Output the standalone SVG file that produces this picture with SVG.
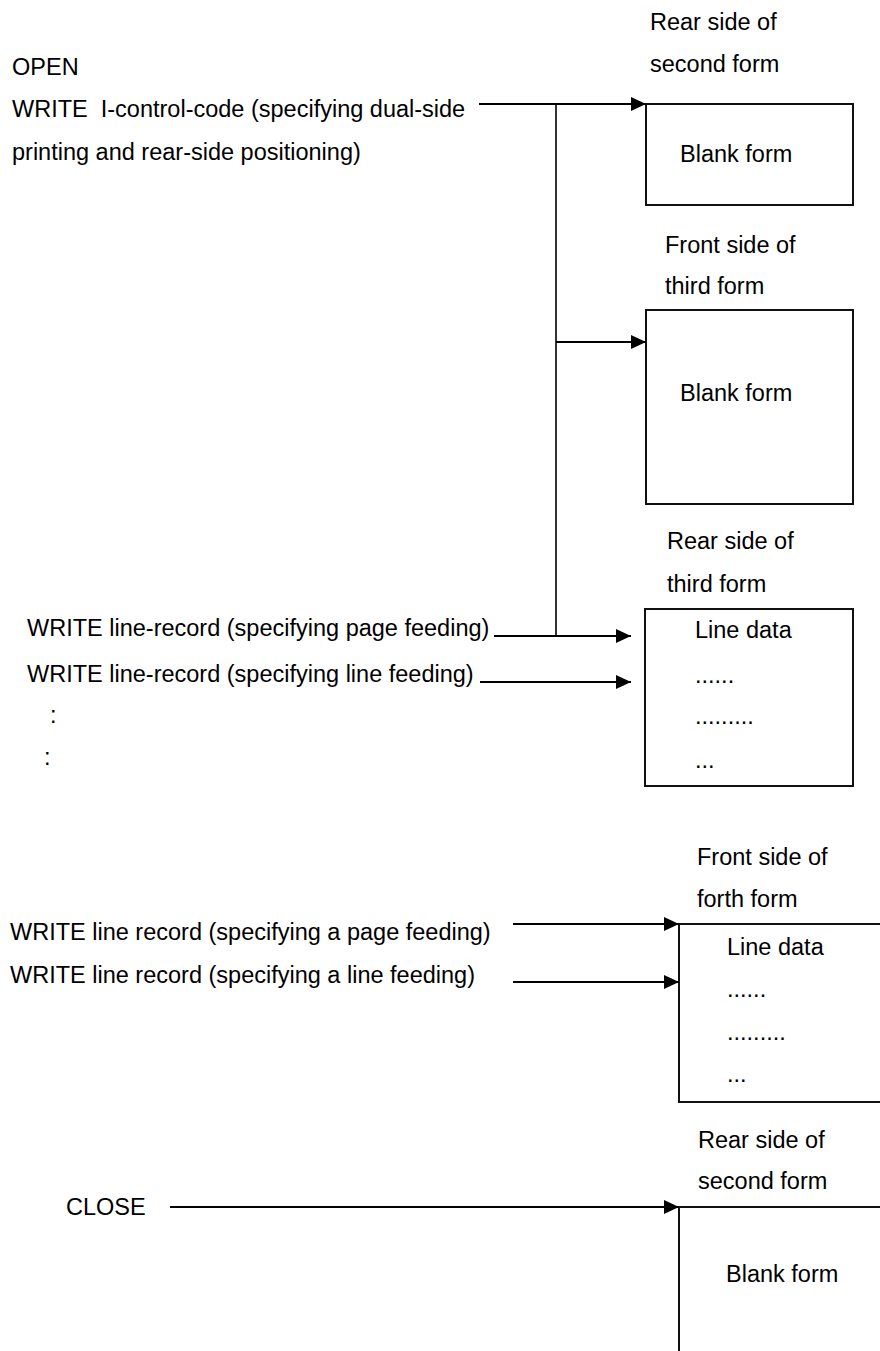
<svg xmlns="http://www.w3.org/2000/svg" width="880" height="1351" viewBox="0 0 880 1351">
<defs>
<style>
text{font-family:"Liberation Sans",Arial,sans-serif;font-size:23.5px;fill:#000}
.box{fill:#fff;stroke:#111;stroke-width:2}
.ln{fill:none;stroke:#000;stroke-width:1.6}
.arr{fill:none;stroke:#000;stroke-width:2;marker-end:url(#ah)}
</style>
<marker id="ah" markerWidth="15" markerHeight="14" refX="15" refY="7" orient="auto" markerUnits="userSpaceOnUse" viewBox="0 0 15 14">
<path d="M0,0 L15,7 L0,14 Z" fill="#000"/>
</marker>
</defs>
<rect width="880" height="1351" fill="#fff"/>

<g id="labels-left">
<text x="12" y="75">OPEN</text>
<text x="12" y="117" xml:space="preserve">WRITE  I-control-code (specifying dual-side</text>
<text x="12" y="160">printing and rear-side positioning)</text>
<text x="27" y="636">WRITE line-record (specifying page feeding)</text>
<text x="27" y="682">WRITE line-record (specifying line feeding)</text>
<text x="50" y="723">:</text>
<text x="44" y="765">:</text>
<text x="10" y="940">WRITE line record (specifying a page feeding)</text>
<text x="10" y="983">WRITE line record (specifying a line feeding)</text>
<text x="66" y="1215">CLOSE</text>
</g>

<g id="form1">
<text x="650" y="30">Rear side of</text>
<text x="650" y="72">second form</text>
<rect class="box" x="646" y="104" width="207" height="101"/>
<text x="680" y="162">Blank form</text>
</g>

<g id="form2">
<text x="665" y="253">Front side of</text>
<text x="665" y="294">third form</text>
<rect class="box" x="646" y="310" width="207" height="194"/>
<text x="680" y="401">Blank form</text>
</g>

<g id="form3">
<text x="667" y="549">Rear side of</text>
<text x="667" y="592">third form</text>
<rect class="box" x="645" y="609" width="208" height="177"/>
<text x="695" y="638">Line data</text>
<text x="695" y="683">......</text>
<text x="695" y="724">.........</text>
<text x="695" y="768">...</text>
</g>

<g id="form4">
<text x="697" y="865">Front side of</text>
<text x="697" y="907">forth form</text>
<rect class="box" x="679" y="924" width="230" height="178"/>
<text x="727" y="955">Line data</text>
<text x="727" y="997">......</text>
<text x="727" y="1040">.........</text>
<text x="727" y="1082">...</text>
</g>

<g id="form5">
<text x="698" y="1148">Rear side of</text>
<text x="698" y="1189">second form</text>
<rect class="box" x="679" y="1207" width="230" height="170"/>
<text x="726" y="1282">Blank form</text>
</g>

<g id="connectors">
<line class="arr" x1="479" y1="104" x2="646" y2="104"/>
<line class="ln" x1="556" y1="104" x2="556" y2="636"/>
<line class="arr" x1="556" y1="342" x2="646" y2="342"/>
<line class="arr" x1="494" y1="636" x2="631" y2="636"/>
<line class="arr" x1="480" y1="682" x2="631" y2="682"/>
<line class="arr" x1="513" y1="924" x2="679" y2="924"/>
<line class="arr" x1="513" y1="982" x2="679" y2="982"/>
<line class="arr" x1="170" y1="1207" x2="679" y2="1207"/>
</g>
</svg>
